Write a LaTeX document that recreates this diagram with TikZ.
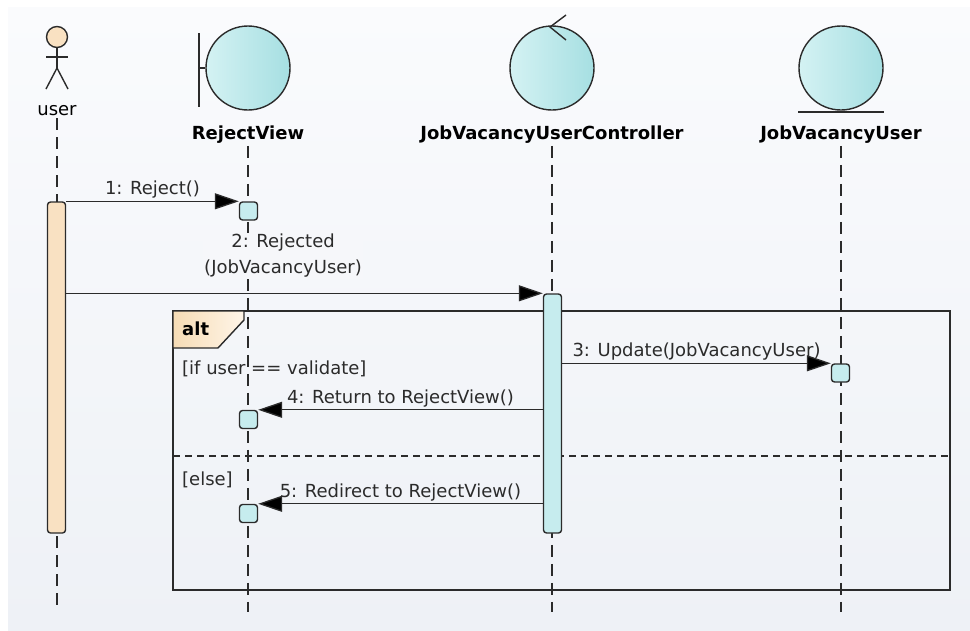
\documentclass[tikz,border=0pt]{standalone}
\usepackage{fontspec}
\setmainfont{DejaVu Sans}
\usetikzlibrary{arrows.meta,positioning}
\definecolor{bgtop}{HTML}{FAFBFD}
\definecolor{bgbot}{HTML}{EEF1F6}
\definecolor{bgmid}{HTML}{F6F7FA}
\definecolor{headl}{HTML}{D4F2F3}
\definecolor{headr}{HTML}{A6DFE2}
\definecolor{barcyan}{HTML}{C6ECEE}
\definecolor{barpeach}{HTML}{F9E1C2}
\definecolor{tabl}{HTML}{F6DCB5}
\definecolor{tabr}{HTML}{FFF5E8}
\definecolor{ink}{HTML}{2B2B2B}
\begin{document}
\begin{tikzpicture}[x=1pt,y=-1pt,font=\fontsize{18}{22}\selectfont,
	head node/.style={circle,draw=ink,line width=1.4pt,minimum size=84pt,inner sep=0pt,left color=headl,right color=headr},
	name node/.style={font=\fontsize{18}{22}\selectfont\bfseries,inner sep=2pt},
	life line/.style={draw=ink,line width=1.5pt,dash pattern=on 12pt off 7pt},
	exec box/.style={draw=ink,line width=1.4pt,fill=barcyan,rounded corners=3pt,minimum size=18pt,inner sep=0pt},
	act bar/.style={draw=ink,line width=1.4pt,rounded corners=3pt,minimum width=18pt,inner sep=0pt},
	msg/.style={draw=ink,line width=1.3pt,-{Triangle[length=24pt,width=16pt,fill=black]}},
	msg lbl/.style={text=ink,inner sep=1pt,above=1pt},
	guard/.style={text=ink,anchor=west,inner sep=0pt}]

	\useasboundingbox (0,0) rectangle (970,630);
	\fill[top color=bgtop,bottom color=bgbot] (8,7) rectangle (970,630);

	% user
	\node[circle,draw=ink,line width=1.4pt,fill=barpeach,minimum size=21pt,inner sep=0pt] (uh) at (57,37) {};
	\draw[ink,line width=1.4pt] (uh.south) -- (57,68) coordinate (uhip);
	\draw[ink,line width=1.4pt] (46,57) -- (68,57);
	\draw[ink,line width=1.4pt] (46,89) -- (uhip) -- (68,89);
	\node[inner sep=2pt] (ulbl) at (57,111) {user};

	% RejectView
	\node[head node] (rv) at (248,68) {};
	\draw[ink,line width=1.4pt] (rv.west) -- (199,68);
	\draw[ink,line width=1.4pt] (199,33) -- (199,107);
	\node[name node] (rvlbl) at (248,135) {RejectView};

	% JobVacancyUserController
	\node[head node] (ctl) at (552,68) {};
	\draw[ink,line width=1.4pt] (566,15) -- (550,27) -- (566,40);
	\node[name node] (ctllbl) at (552,135) {JobVacancyUserController};

	% JobVacancyUser
	\node[head node] (jvu) at (841,68) {};
	\draw[ink,line width=1.4pt] (798,112) -- (884,112);
	\node[name node] (jvulbl) at (841,135) {JobVacancyUser};

	\coordinate (uend) at (57,612);
	\coordinate (rvend) at (248,612);
	\coordinate (ctlend) at (552,612);
	\coordinate (jvuend) at (841,612);

	\draw[life line] (ulbl.south) -- (uend);
	\draw[life line] (rvlbl.south) -- (rvend);
	\draw[life line] (ctllbl.south) -- (ctlend);
	\draw[life line] (jvulbl.south) -- (jvuend);

	% alt
	\draw[ink,line width=2pt] (173,311) rectangle (950,590);
	\draw[ink,line width=1.4pt,left color=tabl,right color=tabr] (173,311) -- (244,311) -- (244,320) -- (218,348) -- (173,348) -- cycle;
	\node[name node,anchor=west] (alt) at (180,329) {alt};
	\draw[ink,line width=1.4pt,dash pattern=on 7pt off 5pt] (173,456) -- (950,456);
	\node[guard] (g1) at (182,369) {[if user == validate]};
	\node[guard] (g2) at (182,480) {[else]};

	\node[act bar,fill=barpeach,minimum height=331pt] (ubar) at (56.5,367.5) {};
	\node[act bar,fill=barcyan,minimum height=239pt] (cbar) at (552.5,413.5) {};

	\node[exec box] (b1) at (248.5,211) {};
	\node[exec box] (b3) at (840.5,373) {};
	\node[exec box] (b4) at (248.5,419.5) {};
	\node[exec box] (b5) at (248.5,513.5) {};

	\draw[msg] (ubar.north east) -- node[msg lbl] {1: Reject()} (b1.north west);
	\draw[msg] (ubar.east |- cbar.north) -- node[msg lbl,pos=.455,above=14pt,align=center,fill=bgmid,font=\fontsize{18}{26}\selectfont] {2: Rejected\\(JobVacancyUser)} (cbar.north west);
	\draw[msg] (cbar.east |- b3.north) -- node[msg lbl] {3: Update(JobVacancyUser)} (b3.north west);
	\draw[msg] (cbar.west |- b4.north) -- node[msg lbl] {4: Return to RejectView()} (b4.north east);
	\draw[msg] (cbar.west |- b5.north) -- node[msg lbl] {5: Redirect to RejectView()} (b5.north east);
\end{tikzpicture}
\end{document}
